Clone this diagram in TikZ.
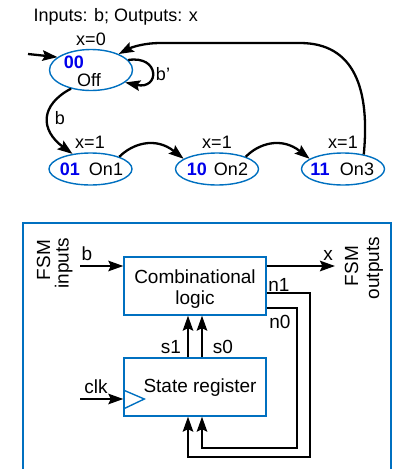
\documentclass[tikz,border=0pt]{standalone}
\usepackage{fontspec}
\setmainfont{Liberation Sans}
\usetikzlibrary{arrows.meta,shapes.geometric,positioning}
\definecolor{lineblue}{RGB}{0,112,192}
\definecolor{codeblue}{RGB}{0,0,235}

\begin{document}
\begin{tikzpicture}[x=1pt,y=-1pt,>={Stealth[length=15pt,width=10.5pt,inset=2.5pt]},
  state/.style={ellipse,draw=lineblue,line width=1.4pt,minimum width=83pt,minimum height=32pt,inner sep=0pt},
  box/.style={rectangle,draw=lineblue,line width=1.4pt,minimum width=142pt,minimum height=58pt,inner sep=0pt},
  wire/.style={line width=2.3pt},
  code/.style={font=\fontsize{18}{18}\selectfont\bfseries,text=codeblue,anchor=base},
  toptxt/.style={font=\fontsize{18}{18}\selectfont,anchor=base},
  lbl/.style={font=\fontsize{19}{22}\selectfont,anchor=base}]
  \useasboundingbox (0,0) rectangle (394,469);

  % state diagram
  \node[toptxt,anchor=base west] (title) at (30,21.5) {Inputs: b; Outputs: x};
  \node[state,minimum height=41pt] (s00) at (91,70) {};
  \node[state] (s01) at (90.5,169) {};
  \node[state] (s10) at (217,169) {};
  \node[state] (s11) at (343,169) {};
  \node[code] (c00) at (74,68) {00};
  \node[toptxt] (off) at (89,86.5) {Off};
  \node[code] (c01) at (70,175) {01};
  \node[toptxt] (on1) at (106,175) {On1};
  \node[code] (c10) at (197,175) {10};
  \node[toptxt] (on2) at (231,175) {On2};
  \node[code] (c11) at (320,175) {11};
  \node[toptxt] (on3) at (357,175) {On3};
  \node[toptxt] (x00) at (91,45.5) {x=0};
  \node[toptxt] (x01) at (90,148) {x=1};
  \node[toptxt] (x10) at (217,148) {x=1};
  \node[toptxt] (x11) at (343,148) {x=1};
  \node[toptxt] (bnot) at (163,80) {b'};
  \node[toptxt] (bon) at (60,124) {b};

  \coordinate (init) at (28,54);
  \coordinate (backR) at (300,43);
  \coordinate (backL) at (160,43);
  \draw[->,wire] (init) -- (s00.159);
  \draw[->,wire] (s00.15) .. controls (160,55) and (160,90) .. (s00.-20);
  \draw[->,wire] (s00.223) .. controls (40,105) and (40,130) .. (s01.140);
  \draw[->,wire] (s01.23) .. controls (132,144) and (155,136) .. (s10.163);
  \draw[->,wire] (s10.23) .. controls (258,144) and (281,136) .. (s11.163);
  \draw[->,wire] (s11.35) .. controls (370,90) and (355,43) .. (backR) -- (backL)
    .. controls (145,43) and (132,47) .. (s00.30);

  % FSM block diagram
  \coordinate (frameBL) at (23,469);
  \coordinate (frameTR) at (391,223);
  \coordinate (frameBR) at (391,469);
  \draw[lineblue,line width=1.5pt] (frameBL) |- (frameTR) -- (frameBR);

  \node[box] (comb) at (195,286) {};
  \node[lbl] (combtxt) at (195,283) {Combinational};
  \node[lbl] (logictxt) at (195,304) {logic};
  \node[box] (reg) at (195,387) {};
  \node[lbl] (regtxt) at (200,392) {State register};
  \draw[lineblue,line width=1.4pt] ([yshift=-3pt]reg.west) -- ++(21,9) -- ([yshift=-22pt]reg.west);

  \node[lbl,rotate=90] (fsmin) at (50,260) {FSM};
  \node[lbl,rotate=90] (inputs) at (68.5,263) {inputs};
  \node[lbl,rotate=90] (fsmout) at (358,266) {FSM};
  \node[lbl,rotate=90] (outputs) at (379,268) {outputs};

  \coordinate (bin) at (80,266);
  \coordinate (xout) at (335,266);
  \coordinate (clkin) at (80,399);
  \coordinate (n1c) at (310,457);
  \coordinate (n0c) at (297,448);
  \draw[->,wire] (bin) -- (bin -| comb.west);
  \draw[->,wire] (xout -| comb.east) -- (xout);
  \draw[->,wire] (clkin) -- (clkin -| reg.west);
  \draw[->,wire] ([xshift=-7pt]reg.north) -- ([xshift=-7pt]comb.south);
  \draw[->,wire] ([xshift=7pt]reg.north) -- ([xshift=7pt]comb.south);
  \draw[->,wire] ([yshift=-7pt]comb.east) -| (n1c) -| ([xshift=-7pt]reg.south);
  \draw[->,wire] ([yshift=-22pt]comb.east) -| (n0c) -| ([xshift=7pt]reg.south);

  \node[lbl] (blbl) at (87,260) {b};
  \node[lbl] (xlbl) at (328,260) {x};
  \node[lbl] (clklbl) at (96,393) {clk};
  \node[lbl] (s1lbl) at (171,353) {s1};
  \node[lbl] (s0lbl) at (223,353) {s0};
  \node[lbl] (n1lbl) at (279,291) {n1};
  \node[lbl] (n0lbl) at (280,328) {n0};
\end{tikzpicture}
\end{document}
